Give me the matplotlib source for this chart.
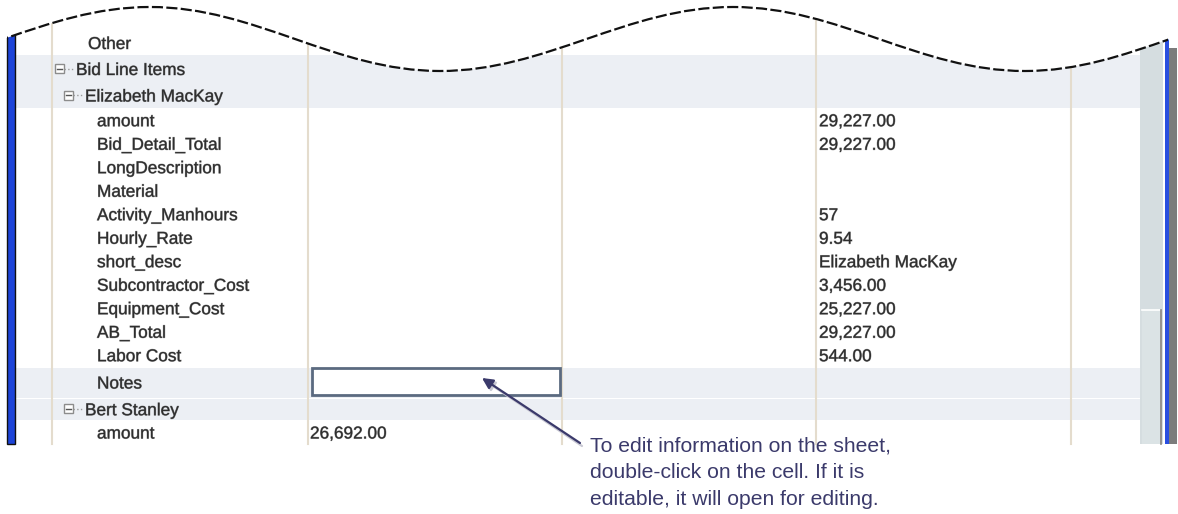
"""Spreadsheet detail-sheet screenshot: a torn-edge view of bid line items with a callout."""
import matplotlib
matplotlib.use("Agg")
import matplotlib.pyplot as plt
from matplotlib.patches import Rectangle, PathPatch
from matplotlib.path import Path
import matplotlib.patheffects as pe

# ---- content -------------------------------------------------------------
ROW_LABELS = ["Other", "Bid Line Items", "Elizabeth MacKay", "amount", "Bid_Detail_Total",
              "LongDescription", "Material", "Activity_Manhours", "Hourly_Rate", "short_desc",
              "Subcontractor_Cost", "Equipment_Cost", "AB_Total", "Labor Cost", "Notes",
              "Bert Stanley", "amount"]
ROW_LEVEL = [0, 1, 2, 3, 3, 3, 3, 3, 3, 3, 3, 3, 3, 3, 3, 2, 3]
COL2_VALUES = [""] * 16 + ["26,692.00"]
COL4_VALUES = ["", "", "", "29,227.00", "29,227.00", "", "", "57", "9.54", "Elizabeth MacKay",
               "3,456.00", "25,227.00", "29,227.00", "544.00", "", "", ""]
SHADED = [False, True, True] + [False] * 11 + [True, True, False]
CALLOUT = ["To edit information on the sheet,",
           "double-click on the cell. If it is",
           "editable, it will open for editing."]

# ---- layout (pixels) -----------------------------------------------------
W, H = 1178, 514
ROW_H = [25, 27, 26] + [23.5] * 11 + [31, 22.5, 24]
TOP = 30
GRID_X = [52, 308, 562, 816, 1071]
TEXT_X = {0: 88, 1: 76, 2: 85, 3: 97}
BOX_X = {1: 55, 2: 64}
TXT = "#2e2e2e"
NAVY = "#3b3a6b"
BAND = "#eceff4"
BOTTOM = TOP + sum(ROW_H)

fig = plt.figure(figsize=(W / 100, H / 100), dpi=100)
ax = fig.add_axes([0, 0, 1, 1])
ax.set_xlim(0, W)
ax.set_ylim(H, 0)
ax.axis("off")
plt.rcParams["font.family"] = ["Liberation Sans", "DejaVu Sans"]
soft = [pe.withStroke(linewidth=0.6, foreground=TXT, alpha=0.45)]

# row bands and text
y = TOP
for i, label in enumerate(ROW_LABELS):
    h = ROW_H[i]
    cy = y + h / 2
    if SHADED[i]:
        inset = 1.5 if i >= 14 else 0
        ax.add_patch(Rectangle((16, y + inset), 1140 - 16, h - inset, color=BAND, lw=0, zorder=1))
    lvl = ROW_LEVEL[i]
    ax.text(TEXT_X[lvl], cy + 6.5, label, fontsize=12.4, color=TXT, va="baseline",
            zorder=4, path_effects=soft)
    if lvl in BOX_X:
        bx = BOX_X[lvl]
        ax.add_patch(Rectangle((bx, cy - 4.5), 9, 9, facecolor="white", edgecolor="#8c8c8c",
                               lw=1, zorder=4))
        ax.plot([bx + 2, bx + 7], [cy, cy], color="#555555", lw=1, zorder=5)
        ax.plot([bx + 9, TEXT_X[lvl] - 1], [cy, cy], color="#9a9a9a", lw=1, ls=":", zorder=4)
    if COL2_VALUES[i]:
        ax.text(GRID_X[1] + 2, cy + 6.5, COL2_VALUES[i], fontsize=12.4, color=TXT,
                va="baseline", zorder=4, path_effects=soft)
    if COL4_VALUES[i]:
        ax.text(GRID_X[3] + 3, cy + 6.5, COL4_VALUES[i], fontsize=12.4, color=TXT,
                va="baseline", zorder=4, path_effects=soft)
    if label == "Notes":
        ax.add_patch(Rectangle((312, y + 1.5), 248, h - 4, facecolor="white",
                               edgecolor="#5b6a80", lw=2, zorder=6))
    y += h

# column lines
for gx in GRID_X:
    ax.plot([gx, gx], [0, BOTTOM], color="#e4dccd", lw=1.5, zorder=2)

# left window edge
ax.add_patch(Rectangle((7, 0), 8, BOTTOM, facecolor="#1d44d8", edgecolor="#101010", lw=1, zorder=3))
# scrollbar, right edge and shadow
ax.add_patch(Rectangle((1140, 0), 23, BOTTOM, color="#d5dde0", lw=0, zorder=3))
ax.add_patch(Rectangle((1142, 310), 19, BOTTOM - 310, facecolor="#dbe3e5", edgecolor="none", zorder=3))
ax.plot([1142, 1160], [310, 310], color="white", lw=1.2, zorder=3)
ax.plot([1160.5, 1160.5], [310, BOTTOM], color="#8a8580", lw=1.2, zorder=3)
ax.add_patch(Rectangle((1164.5, 0), 4, BOTTOM, color="#2a4fe0", lw=0, zorder=3))
ax.add_patch(Rectangle((1168.5, 48), 8, BOTTOM - 48, color="#7c7c7c", lw=0, zorder=3))

# torn top edge: smooth curve through alternating crests and troughs
crest_x = [-143, 150, 440, 733, 1025, 1315]
crest_y = [71, 7, 71, 7, 71, 7]
verts, codes = [(crest_x[0], crest_y[0])], [Path.MOVETO]
for x0, y0, x1, y1 in zip(crest_x[:-1], crest_y[:-1], crest_x[1:], crest_y[1:]):
    k = 0.364 * (x1 - x0)
    verts += [(x0 + k, y0), (x1 - k, y1), (x1, y1)]
    codes += [Path.CURVE4] * 3
mask = Path(verts + [(crest_x[-1], -20), (crest_x[0], -20), (0, 0)],
            codes + [Path.LINETO, Path.LINETO, Path.CLOSEPOLY])
ax.add_patch(PathPatch(mask, facecolor="white", edgecolor="none", zorder=10))
edge = PathPatch(Path(verts, codes), fill=False, edgecolor="#111111", lw=1.6,
                 ls=(0, (5, 1.5)), zorder=11)
ax.add_patch(edge)
edge.set_clip_path(Rectangle((7, -10), 1161, H, transform=ax.transData))

# callout
ax.annotate("", xy=(484, 380), xytext=(582, 446),
            arrowprops=dict(arrowstyle="-|>", color="#c9c9d4", lw=1.6, mutation_scale=16,
                            shrinkA=0, shrinkB=0), zorder=7)
ax.annotate("", xy=(482, 378), xytext=(580, 443),
            arrowprops=dict(arrowstyle="-|>", color=NAVY, lw=1.6, mutation_scale=16,
                            shrinkA=0, shrinkB=0), zorder=8)
for j, line in enumerate(CALLOUT):
    ax.text(590, 451 + 27 * j, line, fontsize=15.2, color=NAVY, va="baseline", zorder=8)

fig.savefig("out.png", dpi=100, facecolor="white")
